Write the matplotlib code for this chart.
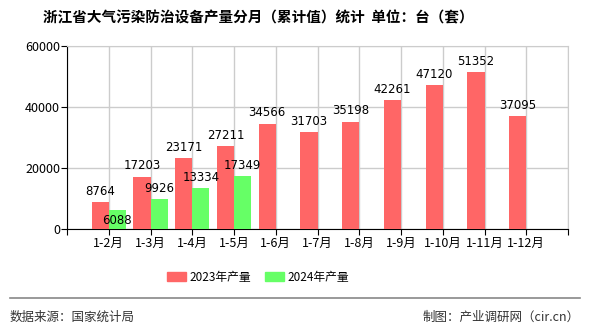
import numpy as np
import matplotlib.pyplot as plt
from matplotlib.patches import Patch
from matplotlib.lines import Line2D

plt.rcParams['font.family'] = ['Noto Sans CJK SC', 'DejaVu Sans']

months = ['1-2月', '1-3月', '1-4月', '1-5月', '1-6月', '1-7月', '1-8月',
          '1-9月', '1-10月', '1-11月', '1-12月']
y2023 = [8764, 17203, 23171, 27211, 34566, 31703, 35198, 42261, 47120, 51352, 37095]
y2024 = [6088, 9926, 13334, 17349]

red = '#FF6666'
green = '#66FF66'

fig = plt.figure(figsize=(5.9, 3.3), dpi=100)
ax = fig.add_axes([67 / 590, 1 - 229 / 330, 501 / 590, 183 / 330])

x = np.arange(1, len(months) + 1)
w = 0.41
ax.bar(x[:len(y2023)] - w / 2, y2023, w, color=red, zorder=3)
ax.bar(x[:len(y2024)] + w / 2, y2024, w, color=green, zorder=3)

for xi, v in zip(x, y2023):
    ax.annotate(str(v), (xi - w / 2, v), xytext=(0, 3), textcoords='offset points',
                ha='center', va='bottom', fontsize=8.5, family='DejaVu Sans', zorder=4)
for xi, v in zip(x, y2024):
    # first label gets pushed inside the bar to avoid the red label
    off = -12 if v < 8000 else 3
    ax.annotate(str(v), (xi + w / 2, v), xytext=(0, off), textcoords='offset points',
                ha='center', va='bottom', fontsize=8.5, family='DejaVu Sans', zorder=4)

ax.set_xlim(0, 12)
ax.set_ylim(0, 60000)
ax.set_yticks([0, 20000, 40000, 60000])
ax.set_xticks(np.arange(0, 13))
ax.set_xticklabels([''] + months + [''])
ax.grid(True, color='#cccccc', linewidth=1, zorder=0)
for s in ['top', 'right']:
    ax.spines[s].set_color('#cccccc')
for s in ['left', 'bottom']:
    ax.spines[s].set_color('black')
ax.tick_params(axis='x', length=4, labelsize=9, pad=2)
ax.tick_params(axis='y', length=4, labelsize=9, pad=1)

fig.text(258 / 590, 1 - 17 / 330, '浙江省大气污染防治设备产量分月（累计值）统计  单位：台（套）',
         ha='center', va='center', fontsize=10.5, fontweight='bold')

handles = [Patch(color=red, label='2023年产量'), Patch(color=green, label='2024年产量')]
fig.legend(handles=handles, loc='center', bbox_to_anchor=(258 / 590, 1 - 277 / 330), ncol=2,
           frameon=False, fontsize=8.5, handlelength=1.6, handleheight=0.8,
           columnspacing=1.2, handletextpad=0.3)

fig.add_artist(Line2D([10 / 590, 580 / 590], [1 - 298 / 330] * 2, color='#888888', linewidth=1.2))
fig.text(10 / 590, 1 - 317 / 330, '数据来源：国家统计局', ha='left', va='center', fontsize=9, color='#333333')
fig.text(580 / 590, 1 - 317 / 330, '制图：产业调研网（cir.cn）', ha='right', va='center', fontsize=9, color='#333333')

fig.savefig('out.png', dpi=100)
